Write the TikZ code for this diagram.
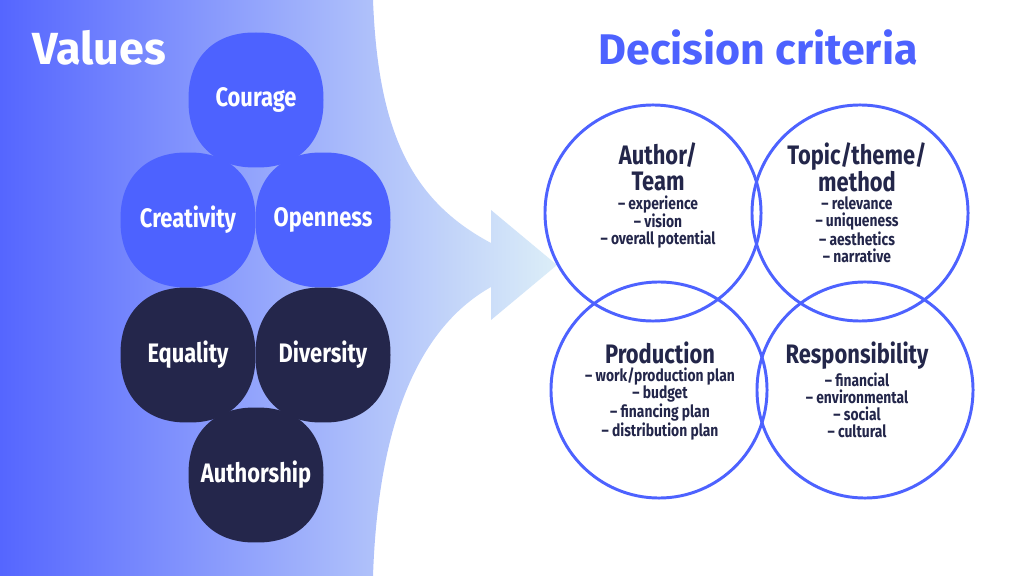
\documentclass[tikz,border=0pt]{standalone}
\usepackage{fontspec}
\setmainfont{Fira Sans}
\newfontfamily\condfont{Fira Sans}[FakeStretch=0.82]
\usetikzlibrary{positioning}
\definecolor{valblue}{HTML}{4D62FF}
\definecolor{navy}{HTML}{24264B}
\definecolor{ink}{HTML}{23264A}
\definecolor{bgleft}{HTML}{5566FF}
\definecolor{bgmid}{HTML}{B2C5F8}
\definecolor{bgright}{HTML}{DCEEF8}
\begin{document}
\begin{tikzpicture}[x=0.025cm,y=-0.025cm,
    bubble/.style={inner sep=0pt,text=white,font=\condfont\bfseries\fontsize{19}{22}\selectfont},
    crit/.style={circle,draw=valblue,line width=2.1pt,minimum size=5.4cm},
    head/.style={inner sep=0pt,align=center,text=ink,font=\condfont\bfseries\fontsize{19}{18.6}\selectfont},
    items/.style={inner sep=0pt,align=center,text=ink,font=\condfont\bfseries\fontsize{12}{12}\selectfont},
    title/.style={inner sep=0pt,font=\bfseries\fontsize{32}{36}\selectfont}]
  \useasboundingbox (0,0) rectangle (1024,576);
  % values background with arrow
  \shade[left color=bgleft,middle color=bgmid,right color=bgright] (0,0) -- (373,0)
    .. controls (378,130) and (410,200) .. (491,243) -- (491,210) -- (557,265) -- (491,320) -- (491,287)
    .. controls (415,330) and (378,430) .. (373,576) -- (0,576) -- cycle;
  \node[title,text=white,anchor=base west] (values) at (32,65) {Values};
  \node[title,text=valblue,anchor=base,font=\bfseries\fontsize{30.5}{36}\selectfont] (criteria) at (758,65) {Decision criteria};
  % value bubbles (squircles)
  \foreach \name/\px/\py/\col/\txt in {courage/256/100/valblue/Courage,creativity/188/220/valblue/Creativity,
      openness/323/220/valblue/Openness,equality/188/355/navy/Equality,diversity/323/355/navy/Diversity,
      authorship/256/475/navy/Authorship}{
    \fill[\col] plot[smooth cycle,domain=2.5:357.5,samples=72,variable=\t]
      ({\px+67.5*sign(cos(\t))*abs(cos(\t))^0.88},{\py+67.5*sign(sin(\t))*abs(sin(\t))^0.88});
    \node[bubble] (\name) at (\px,\py) {\txt};
  }
  % criteria circles
  \foreach \name/\x/\y in {author/653/213,topic/860/213,production/659/390,responsibility/865/390}
    \node[crit] (\name) at (\x,\y) {};
  \node[head,anchor=north] (authorhead) at (658,142) {Author/\\Team};
  \node[items,below=3pt of authorhead] (authorlist) {– experience\\– vision\\– overall potential};
  \node[head,anchor=north] (topichead) at (857,142) {Topic/theme/\\method};
  \node[items,below=3pt of topichead] (topiclist) {– relevance\\– uniqueness\\– aesthetics\\– narrative};
  \node[head,anchor=north] (productionhead) at (660,342) {Production};
  \node[items,below=2pt of productionhead] (productionlist) {– work/production plan\\– budget\\– financing plan\\– distribution plan};
  \node[head,anchor=north] (responsibilityhead) at (857,342) {Responsibility};
  \node[items,below=2pt of responsibilityhead] (responsibilitylist) {– financial\\– environmental\\– social\\– cultural};
\end{tikzpicture}
\end{document}
